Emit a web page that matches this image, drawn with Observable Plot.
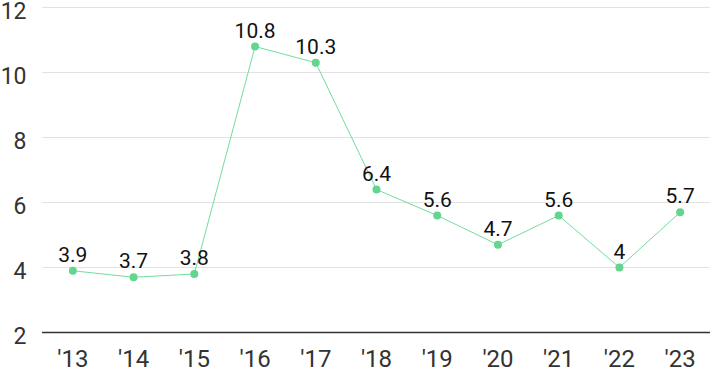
<!DOCTYPE html>
<html><head><meta charset="utf-8">
<script src="https://cdn.jsdelivr.net/npm/d3@7"></script>
<script src="https://cdn.jsdelivr.net/npm/@observablehq/plot@0.6"></script>
<style>body{margin:0;background:#fff}</style>
</head><body><div id="chart"></div>
<script>
const years = ["'13","'14","'15","'16","'17","'18","'19","'20","'21","'22","'23"];
const values = [3.9,3.7,3.8,10.8,10.3,6.4,5.6,4.7,5.6,4.0,5.7];
const yTicks = [2,4,6,8,10,12];
const data = years.map((y,i)=>({year:y, value:values[i]}));
const chart = Plot.plot({
  width:710, height:371,
  marginLeft:42, marginRight:0, marginTop:7, marginBottom:39,
  style:{fontFamily:"Roboto, sans-serif", background:"#fff", overflow:"visible"},
  x:{type:"point", domain:years, padding:0.5, round:false, label:null},
  y:{domain:[2,12], ticks:yTicks, label:null},
  marks:[
    Plot.gridY(yTicks.filter(t=>t>2), {stroke:"#e2e2e2", strokeOpacity:1, strokeWidth:1}),
    Plot.ruleY([2], {stroke:"#333", strokeWidth:1.5}),
    Plot.axisY({ticks:yTicks, tickSize:0, tickPadding:16, fontSize:23, fill:"#333", dy:4, label:null}),
    Plot.axisX({tickSize:0, tickPadding:17, fontSize:24, fill:"#333", label:null}),
    Plot.line(data, {x:"year", y:"value", stroke:"#72dc9c", strokeWidth:1}),
    Plot.dot(data, {x:"year", y:"value", r:4, fill:"#62d68e", stroke:"none"}),
    Plot.text(data, {x:"year", y:"value", text:d=>String(d.value), lineAnchor:"bottom", dy:-9, fontSize:21, fill:"#111"})
  ]
});
document.getElementById("chart").append(chart);
</script></body></html>
